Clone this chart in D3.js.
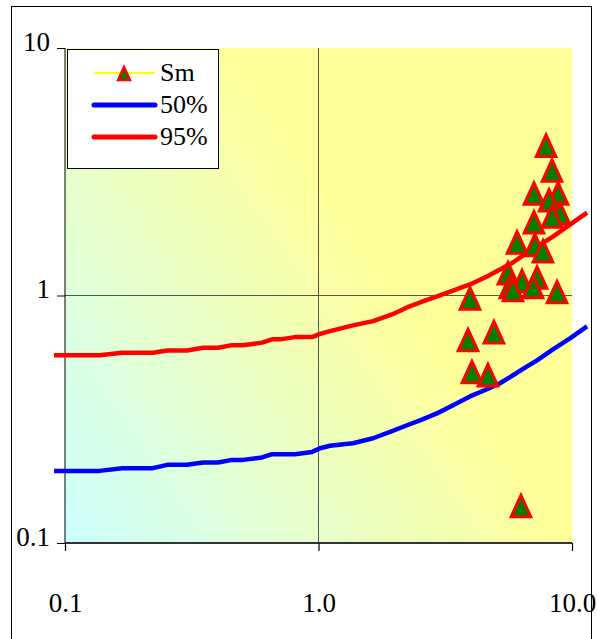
<!DOCTYPE html>
<html>
<head>
<meta charset="utf-8">
<script src="https://cdn.jsdelivr.net/npm/d3@7"></script>
<style>
  html, body { margin: 0; padding: 0; background: #ffffff; }
  svg { display: block; }
  svg text { font-family: "Liberation Serif", "Times New Roman", Times, "DejaVu Serif", serif !important; fill: #000; }
</style>
</head>
<body>
<svg id="chart" width="597" height="639"></svg>
<script>
// ---- data ----
const xTicks = [0.1, 1, 10];
const xTickLabels = ["0.1", "1.0", "10.0"];
const yTicks = [0.1, 1, 10];
const yTickLabels = ["0.1", "1", "10"];

const seriesNames = ["Sm", "50%", "95%"];

// Sm sample points
const smX = [7.90, 8.34, 7.08, 8.81, 8.12, 8.97, 8.34, 7.08, 6.07, 7.14, 7.68, 5.59, 6.35, 7.28, 5.69, 5.85, 7.02, 8.73, 3.96, 3.89, 4.92, 4.03, 4.66, 6.29];
const smY = [4.06, 3.22, 2.60, 2.60, 2.44, 2.16, 2.10, 1.99, 1.65, 1.61, 1.52, 1.24, 1.15, 1.19, 1.09, 1.06, 1.09, 1.04, 0.98, 0.665, 0.716, 0.494, 0.480, 0.142];

// percentile curves (shared x)
const curveX = [0.0905, 0.137, 0.168, 0.222, 0.253, 0.303, 0.350, 0.402, 0.456, 0.504, 0.599, 0.656, 0.705, 0.808, 0.943, 1.014, 1.110, 1.368, 1.641, 1.950, 2.234, 2.514, 2.935, 3.393, 3.96, 4.62, 5.20, 5.85, 6.65, 7.28, 8.41, 9.82, 11.46];
const p50 = [0.1956, 0.1956, 0.2006, 0.2006, 0.2069, 0.2069, 0.2115, 0.2115, 0.2167, 0.2167, 0.2216, 0.2285, 0.2285, 0.2285, 0.2334, 0.2415, 0.247, 0.253, 0.265, 0.283, 0.299, 0.313, 0.334, 0.360, 0.391, 0.418, 0.442, 0.476, 0.517, 0.547, 0.606, 0.671, 0.750];
const p95 = [0.573, 0.573, 0.587, 0.587, 0.600, 0.600, 0.615, 0.615, 0.630, 0.630, 0.645, 0.665, 0.665, 0.679, 0.679, 0.700, 0.718, 0.757, 0.788, 0.838, 0.895, 0.937, 0.991, 1.047, 1.108, 1.193, 1.273, 1.359, 1.491, 1.576, 1.729, 1.933, 2.161];

// ---- layout ----
const svg = d3.select("#chart");
const L = 65, R = 572, T = 48, B = 543;
const FONT = "'Liberation Serif', 'Times New Roman', Times, 'DejaVu Serif', serif";

const x = d3.scaleLog().domain([0.1, 10]).range([L, R]);
const y = d3.scaleLog().domain([0.1, 10]).range([B, T]);

// outer frame
svg.append("rect")
  .attr("x", 11.5).attr("y", 6.5).attr("width", 580).attr("height", 660)
  .attr("fill", "#fff").attr("stroke", "#000").attr("stroke-width", 1);

// gradient
const defs = svg.append("defs");
const grad = defs.append("linearGradient")
  .attr("id", "bg").attr("gradientUnits", "userSpaceOnUse")
  .attr("x1", L).attr("y1", B).attr("x2", 408).attr("y2", 306);
grad.append("stop").attr("offset", "0%").attr("stop-color", "#ccffff");
grad.append("stop").attr("offset", "100%").attr("stop-color", "#ffff99");

svg.append("rect")
  .attr("x", L).attr("y", T).attr("width", R - L).attr("height", B - T)
  .attr("fill", "url(#bg)");

// gridlines (major, interior)
svg.append("g").selectAll("line").data(xTicks.filter(d => d > 0.1 && d < 10)).join("line")
  .attr("x1", d => x(d)).attr("x2", d => x(d)).attr("y1", T).attr("y2", B)
  .attr("stroke", "#555").attr("stroke-width", 1).attr("shape-rendering", "crispEdges");
svg.append("g").selectAll("line").data(yTicks.filter(d => d > 0.1 && d < 10)).join("line")
  .attr("x1", L).attr("x2", R).attr("y1", d => y(d)).attr("y2", d => y(d))
  .attr("stroke", "#555").attr("stroke-width", 1).attr("shape-rendering", "crispEdges");

// axes
const xAxis = d3.axisBottom(x).tickValues(xTicks).tickFormat((d, i) => xTickLabels[i]).tickSize(8).tickPadding(42);
const gx = svg.append("g").attr("transform", `translate(0,${B})`).call(xAxis).attr("font-family", FONT);
gx.select(".domain").attr("stroke", "#333").attr("stroke-width", 2).attr("d", `M${L},0H${R}`);
gx.selectAll(".tick line").attr("stroke", "#000").attr("stroke-width", 1.2);
gx.selectAll(".tick text").attr("font-size", 27).attr("font-family", FONT).attr("dy", 0).attr("y", 69);

const yAxis = d3.axisLeft(y).tickValues(yTicks).tickFormat((d, i) => yTickLabels[i]).tickSize(8).tickPadding(14);
const gy = svg.append("g").attr("transform", `translate(${L},0)`).call(yAxis).attr("font-family", FONT);
gy.select(".domain").attr("stroke", "#000").attr("stroke-width", 1).attr("d", `M0,${T}V${B}`);
gy.selectAll(".tick line").attr("stroke", "#000").attr("stroke-width", 1);
gy.selectAll(".tick text").attr("font-size", 27).attr("font-family", FONT).attr("dy", 0).attr("y", 2).attr("x", -15);

// curves
const line = (vals) => d3.line().x((d, i) => x(curveX[i])).y(d => y(d))(vals);
svg.append("path").attr("d", line(p50)).attr("fill", "none")
  .attr("stroke", "#0000ff").attr("stroke-width", 4.5).attr("stroke-linejoin", "round");
svg.append("path").attr("d", line(p95)).attr("fill", "none")
  .attr("stroke", "#ff0000").attr("stroke-width", 4.5).attr("stroke-linejoin", "round");

// triangle markers
function tri(s) {
  return `M0,${-10 * s}L${9.8 * s},${11.5 * s}L${-9.8 * s},${11.5 * s}Z`;
}
svg.append("g").selectAll("path").data(smX.map((d, i) => [d, smY[i]])).join("path")
  .attr("transform", d => `translate(${x(d[0])},${y(d[1])})`)
  .attr("d", tri(1))
  .attr("fill", "#008000").attr("stroke", "#ff0000").attr("stroke-width", 3)
  .attr("stroke-linejoin", "miter");

// legend
const lg = svg.append("g");
lg.append("rect").attr("x", 67.5).attr("y", 49.5).attr("width", 151).attr("height", 119)
  .attr("fill", "#fff").attr("stroke", "#000").attr("stroke-width", 1);
const legY = [73, 105, 137];
const legColors = ["#ffff00", "#0000ff", "#ff0000"];
const legW = [2, 5, 5];
seriesNames.forEach((name, i) => {
  lg.append("line").attr("x1", 94).attr("x2", 155).attr("y1", legY[i]).attr("y2", legY[i])
    .attr("stroke", legColors[i]).attr("stroke-width", legW[i]).attr("stroke-linecap", i ? "round" : "butt");
  if (i === 0) {
    lg.append("path").attr("transform", `translate(124,${legY[i]})`)
      .attr("d", tri(0.6)).attr("fill", "#008000").attr("stroke", "#ff0000").attr("stroke-width", 2.5);
  }
  lg.append("text").attr("x", 160).attr("y", legY[i] + 8).attr("font-size", 26)
    .attr("font-family", FONT).text(name);
});
</script>
</body>
</html>
